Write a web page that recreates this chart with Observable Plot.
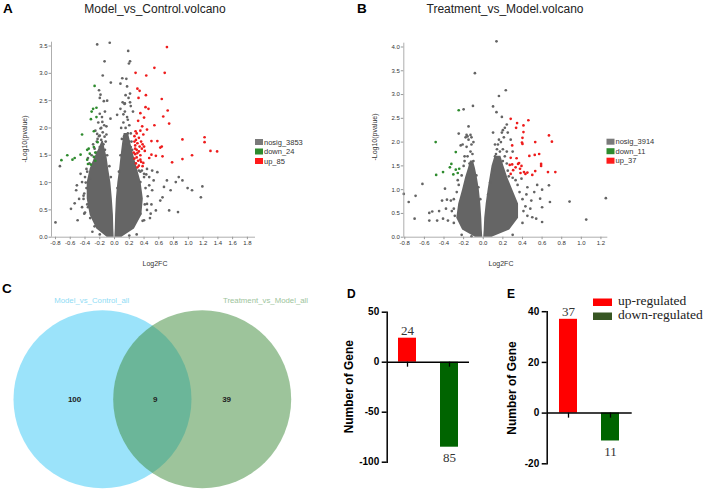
<!DOCTYPE html>
<html>
<head>
<meta charset="utf-8">
<script src="https://cdn.jsdelivr.net/npm/d3@7"></script>
<script src="https://cdn.jsdelivr.net/npm/@observablehq/plot@0.6"></script>
<style>
  html, body { margin: 0; padding: 0; background: #fff; }
  #root { position: relative; width: 708px; height: 491px; overflow: hidden; background: #fff;
          font-family: "Liberation Sans", Arial, sans-serif; }
  #root > svg, #root > figure { position: absolute; margin: 0; }
</style>
</head>
<body>
<div id="root"></div>
<script>
// ---------------- DATA ----------------
const volcanoTitles = ["Model_vs_Control.volcano", "Treatment_vs_Model.volcano"];
const panelLetters = ["A", "B", "C", "D", "E"];
const volcanoXLabel = "Log2FC";
const volcanoYLabel = "-Log10(pvalue)";
const legendLabelsA = ["nosig_3853", "down_24", "up_85"];
const legendLabelsB = ["nosig_3914", "down_11", "up_37"];

const xTicksA = [-0.8, -0.6, -0.4, -0.2, 0, 0.2, 0.4, 0.6, 0.8, 1.0, 1.2, 1.4, 1.6, 1.8];
const yTicksA = [0, 0.5, 1, 1.5, 2, 2.5, 3, 3.5];
const xTicksB = [-0.8, -0.6, -0.4, -0.2, 0, 0.2, 0.4, 0.6, 0.8, 1.0, 1.2];
const yTicksB = [0, 0.5, 1, 1.5, 2, 2.5, 3, 3.5, 4];

// Panel A points [log2FC, -log10(p)]
const upA = [[0.71,3.48],[0.54,3.10],[0.285,3.01],[0.68,3.01],[0.43,2.96],[0.31,2.72],[0.34,2.68],[0.425,2.60],[0.325,2.55],[0.64,2.53],[0.42,2.38],[0.46,2.35],[0.72,2.32],[0.35,2.27],[0.66,2.21],[0.40,2.19],[0.32,2.13],[0.74,2.08],[0.375,2.03],[0.54,2.05],[0.285,1.94],[0.44,1.97],[0.30,1.90],[0.27,1.85],[0.33,1.82],[0.29,1.78],[0.36,1.75],[0.31,1.72],[0.38,1.70],[0.28,1.68],[0.34,1.66],[0.40,1.66],[0.37,1.62],[0.30,1.60],[0.33,1.57],[0.41,1.58],[0.28,1.52],[0.35,1.50],[0.30,1.46],[0.27,1.44],[0.32,1.40],[0.36,1.38],[0.29,1.35],[0.33,1.31],[0.38,1.30],[0.31,1.28],[0.50,1.76],[0.58,1.76],[0.64,1.66],[0.62,1.64],[0.50,1.51],[0.56,1.49],[0.65,1.48],[0.92,1.79],[1.22,1.83],[1.22,1.74],[1.30,1.58],[1.39,1.57],[1.05,1.50],[0.92,1.43],[0.78,1.37],[0.47,1.45],[0.39,1.88],[0.35,1.95],[0.26,1.55],[0.28,1.62],[0.35,1.42],[0.31,1.54],[0.39,1.36],[0.27,1.75]];
const downA = [[-0.27,2.77],[-0.29,2.35],[-0.31,2.30],[-0.245,2.37],[-0.32,2.16],[-0.245,2.20],[-0.28,1.94],[-0.44,1.88],[-0.35,1.62],[-0.37,1.60],[-0.26,1.55],[-0.28,1.47],[-0.46,1.51],[-0.54,1.45],[-0.64,1.50],[-0.57,1.42],[-0.72,1.41],[-0.37,1.42],[-0.36,1.34],[-0.32,1.33],[-0.335,1.53],[-0.26,1.40],[-0.23,1.74],[-0.28,1.65]];
const nosigA = [[-0.235,3.53],[-0.065,3.56],[0.185,3.41],[-0.135,3.22],[0.21,3.22],[0.195,3.18],[-0.16,2.96],[0.105,2.91],[0.16,2.90],[-0.05,2.83],[0.08,2.81],[-0.21,2.69],[-0.19,2.61],[-0.20,2.55],[-0.10,2.50],[-0.145,2.49],[0.17,2.76],[0.21,2.63],[0.11,2.47],[0.135,2.44],[0.21,2.47],[0.08,2.35],[0.035,2.24],[-0.055,2.17],[-0.20,2.26],[-0.165,2.11],[-0.11,2.03],[-0.19,1.99],[-0.235,1.89],[-0.20,1.86],[-0.135,1.84],
  [0.33,1.22],[0.44,1.25],[0.51,1.22],[0.58,1.19],[0.40,1.16],[0.47,1.10],[0.53,1.04],[0.35,1.01],[0.71,1.04],[0.83,1.01],[0.87,1.10],[0.92,1.04],[0.99,0.90],[1.05,0.86],[1.17,0.73],[1.19,0.93],[0.67,0.92],[0.76,0.86],[0.62,0.67],[0.74,0.49],[0.86,0.46],[0.56,0.49],[0.65,0.73],[0.51,0.86],[0.44,0.61],[0.49,0.43],[0.35,0.43],[0.40,0.31],
  [-0.80,0.27],[-0.74,1.30],[-0.59,0.52],[-0.50,0.31],[-0.54,0.62],[-0.48,0.70],[-0.44,1.01],[-0.52,0.86],[-0.46,1.16],[-0.38,1.25],[-0.42,0.76],[-0.36,0.55],[-0.41,0.43],[-0.51,0.95],[-0.33,1.07],
  [-0.38,0.9],[-0.37,0.6],[-0.33,0.35],[-0.27,0.2],[-0.39,1.0],[-0.37,1.2],[-0.34,1.35],[-0.31,1.5],[-0.27,1.62],[-0.24,1.75],[-0.21,1.85],[-0.16,1.92],[-0.12,1.75],[-0.10,1.5],[-0.07,1.3],[-0.05,1.1],[-0.42,0.7],[-0.40,0.45],[-0.30,0.1],[-0.20,0.05],[-0.41,0.8],[-0.29,1.7],[-0.18,2.0],[-0.14,2.05],[-0.22,2.1],[-0.17,2.2],[-0.13,2.3],[-0.44,0.55],[-0.40,1.1],[-0.36,1.45],
  [-0.25,1.55],[-0.20,1.65],[-0.15,1.70],[-0.23,1.80],[-0.18,1.78],[-0.13,1.60],[-0.16,1.45],[-0.11,1.88],[-0.26,1.95],
  [0.38,0.3],[0.41,0.6],[0.42,0.9],[0.40,1.1],[0.37,1.22],[0.24,1.6],[0.23,1.75],[0.22,1.9],[0.20,2.05],[0.17,2.2],[0.14,2.3],[0.12,2.1],[0.10,1.8],[0.08,1.5],[0.06,1.2],[0.04,0.9],[0.30,0.05],[0.20,0.03],[0.45,0.75],[0.44,0.5],[0.25,2.3],[0.22,2.4],[0.19,2.55],[0.15,2.6],[0.47,0.95],[0.43,1.15],[0.35,1.2],[0.25,1.45],[0.50,0.6],[0.48,0.35],
  [0.13,1.85],[0.18,1.90],[0.15,2.00],[0.20,1.75],[0.16,1.70],[0.12,1.60],[0.22,1.65],[0.18,2.15],[0.12,2.25],[0.24,1.45],[0.09,2.0],[0.14,2.45]];
// dense core of panel A (x-extent of the solid cloud at each -log10 p)
const coreLeftA = [{y:0,x1:-0.10,x2:-0.005},{y:0.15,x1:-0.24,x2:-0.01},{y:0.4,x1:-0.33,x2:-0.015},{y:0.7,x1:-0.37,x2:-0.03},{y:1.0,x1:-0.37,x2:-0.05},{y:1.25,x1:-0.33,x2:-0.08},{y:1.45,x1:-0.27,x2:-0.10},{y:1.62,x1:-0.21,x2:-0.13},{y:1.75,x1:-0.17,x2:-0.15}];
const coreRightA = [{y:0,x1:0.005,x2:0.10},{y:0.15,x1:0.01,x2:0.27},{y:0.4,x1:0.015,x2:0.37},{y:0.7,x1:0.025,x2:0.39},{y:1.0,x1:0.045,x2:0.36},{y:1.25,x1:0.07,x2:0.31},{y:1.5,x1:0.09,x2:0.26},{y:1.72,x1:0.11,x2:0.22},{y:1.9,x1:0.13,x2:0.19}];

// Panel B points
const upB = [[0.28,2.49],[0.345,2.40],[0.335,2.30],[0.41,2.35],[0.46,2.46],[0.41,2.21],[0.40,2.09],[0.40,1.96],[0.395,1.99],[0.295,1.93],[0.53,2.00],[0.67,2.14],[0.70,2.01],[0.47,1.71],[0.525,1.73],[0.57,1.75],[0.28,1.67],[0.34,1.66],[0.59,1.54],[0.59,1.50],[0.27,1.52],[0.295,1.53],[0.355,1.54],[0.39,1.50],[0.33,1.47],[0.305,1.41],[0.375,1.44],[0.415,1.37],[0.43,1.33],[0.53,1.39],[0.66,1.37],[0.735,1.37],[0.50,1.31],[0.28,1.33],[0.365,1.56],[0.45,1.36],[0.38,1.35]];
const downB = [[-0.485,2.00],[-0.25,2.67],[-0.28,1.79],[-0.325,1.54],[-0.34,1.47],[-0.41,1.37],[-0.48,1.31],[-0.28,1.42],[-0.245,1.44],[-0.305,1.32],[-0.26,1.35]];
const nosigB = [[0.135,4.12],[-0.085,3.45],[0.23,3.09],[0.16,2.97],[-0.105,2.76],[-0.2,2.69],[0.10,2.75],[0.135,2.63],[0.19,2.53],[0.24,2.37],[0.22,2.30],[-0.15,2.33],[-0.25,2.18],[-0.23,1.93],
  [-0.81,0.91],[-0.76,0.74],[-0.69,0.87],[-0.70,0.39],[-0.62,1.12],[-0.55,0.51],[-0.52,0.54],[-0.47,0.35],[-0.41,0.39],[-0.39,1.02],[-0.37,0.79],[-0.33,0.77],[-0.42,0.77],[-0.30,0.60],
  [0.88,0.75],[1.05,0.37],[1.25,0.82],[0.58,0.81],[0.67,1.09],[0.60,0.63],[0.54,0.39],[0.60,0.32],[0.50,0.42],[0.68,0.74],[0.49,0.77],[0.45,1.05],[0.39,1.23],[0.52,0.95],
  [0.25,2.2],[0.28,2.05],[0.30,1.8],[0.20,2.25],[-0.17,2.15],[-0.12,2.1],[-0.10,2.0],[0.55,1.1],[0.60,1.0],[0.48,0.6],[0.44,0.9],[-0.38,0.6],[-0.36,0.35],[-0.45,0.55],[-0.55,0.35],
  [-0.30,0.3],[-0.32,0.55],[-0.30,0.8],[-0.27,0.95],[-0.25,1.1],[-0.22,1.3],[-0.20,1.5],[-0.19,1.7],[-0.17,1.9],[-0.15,2.05],[-0.18,2.1],[-0.12,1.95],[-0.10,1.6],[-0.07,1.3],[-0.05,1.05],[-0.03,0.8],[-0.22,0.05],[-0.12,0.02],[-0.29,0.45],[-0.26,1.2],[-0.21,1.95],[-0.13,2.15],[-0.16,2.12],
  [-0.16,1.7],[-0.13,1.8],[-0.19,1.6],[-0.11,1.75],[-0.14,1.55],
  [0.40,0.3],[0.41,0.55],[0.40,0.8],[0.37,0.95],[0.35,1.1],[0.30,1.25],[0.25,1.4],[0.24,1.55],[0.22,1.7],[0.20,1.85],[0.18,2.0],[0.15,1.95],[0.12,1.7],[0.10,1.4],[0.07,1.15],[0.05,0.9],[0.30,0.05],[0.45,0.45],[0.43,0.65],[0.33,1.2],[0.26,1.28],[0.24,1.8],[0.21,2.1],[0.19,2.2],
  [0.14,1.85],[0.17,1.8],[0.12,1.95],[0.20,1.6],[0.16,2.05],[0.10,2.2],[0.13,1.75]];
const coreLeftB = [{y:0,x1:-0.08,x2:-0.005},{y:0.15,x1:-0.21,x2:-0.01},{y:0.4,x1:-0.27,x2:-0.015},{y:0.7,x1:-0.25,x2:-0.025},{y:1.0,x1:-0.21,x2:-0.04},{y:1.25,x1:-0.18,x2:-0.06},{y:1.45,x1:-0.15,x2:-0.08},{y:1.6,x1:-0.13,x2:-0.10}];
const coreRightB = [{y:0,x1:0.005,x2:0.09},{y:0.15,x1:0.01,x2:0.27},{y:0.4,x1:0.015,x2:0.36},{y:0.7,x1:0.03,x2:0.36},{y:1.0,x1:0.05,x2:0.30},{y:1.25,x1:0.07,x2:0.25},{y:1.5,x1:0.09,x2:0.21},{y:1.7,x1:0.12,x2:0.18}];

// Venn
const vennSets = ["Model_vs_Control_all", "Treatment_vs_Model_all"];
const vennCounts = [100, 9, 39]; // left only, both, right only

// Bar charts
const regLabels = ["up-regulated", "down-regulated"];
const countsD = [24, -85];
const countsE = [37, -11];
const yTicksD = [-100, -50, 0, 50];
const yTicksE = [-20, 0, 20, 40];
const barYLabel = "Number of Gene";

// ---------------- STYLE ----------------
const FONT = "'Liberation Sans', Arial, sans-serif";
const SERIF = "'Liberation Serif', 'Times New Roman', serif";
const C_GRAY = "#646464", C_CORE = "#656565", C_GREEN = "#2e8b2e", C_RED = "#ee1c1c";
const root = document.getElementById("root");

function place(el, left, top) { el.style.left = left + "px"; el.style.top = top + "px"; root.appendChild(el); }

function volcano(o) {
  const H = 275;
  const pt = (arr, fill) => Plot.dot(arr, {x: d => d[0], y: d => d[1], r: 1.35, fill, stroke: "none"});
  return Plot.plot({
    width: 354, height: H,
    marginLeft: o.mL, marginRight: o.mR, marginTop: o.mT, marginBottom: H - 236.7,
    x: {domain: o.xDomain, axis: null},
    y: {domain: o.yDomain, axis: null},
    style: {fontFamily: FONT, fontSize: "6px", color: "#333", background: "transparent", overflow: "visible"},
    marks: [
      Plot.areaX(o.coreL, {y: "y", x1: "x1", x2: "x2", fill: C_CORE, curve: "linear"}),
      Plot.areaX(o.coreR, {y: "y", x1: "x1", x2: "x2", fill: C_CORE, curve: "linear"}),
      pt(o.nosig, C_GRAY),
      pt(o.down, C_GREEN),
      pt(o.up, C_RED),
      Plot.ruleX([o.xDomain[0]], {stroke: "#999", strokeWidth: 0.8}),
      Plot.ruleY([0], {stroke: "#999", strokeWidth: 0.8}),
      Plot.axisX({ticks: o.xTicks, tickFormat: d => d.toFixed(1), tickSize: 2.5, tickPadding: 1.5, label: null, stroke: "#999"}),
      Plot.axisY({ticks: o.yTicks, tickFormat: d => d.toFixed(1), tickSize: 2.5, tickPadding: 1.5, label: null, stroke: "#999"})
    ]
  });
}

function bars(o) {
  const rows = regLabels.map((c, i) => ({cat: c, value: o.values[i]}));
  return Plot.plot({
    width: 160, height: 190,
    marginLeft: o.mL, marginRight: o.mR, marginTop: o.mT, marginBottom: o.mB,
    x: {domain: regLabels, paddingInner: 0.571, paddingOuter: o.pOuter, axis: null},
    y: {domain: o.yDomain, axis: null},
    color: {domain: regLabels, range: ["#ff0000", "#006400"]},
    style: {fontFamily: FONT, background: "transparent", overflow: "visible", color: "#000"},
    marks: [
      Plot.barY(rows, {x: "cat", y: "value", fill: "cat"}),
      Plot.ruleY([0], {stroke: "#000", strokeWidth: 1.5}),
      Plot.ruleX(rows, {x: "cat", y1: 0, y2: o.tickLen, stroke: "#000", strokeWidth: 1.3}),
      Plot.axisY({ticks: o.yTicks, tickFormat: d => String(d), tickSize: 5, tickPadding: 3, fontSize: 10, fontWeight: "bold", label: null, strokeWidth: 1.5}),
      Plot.frame({anchor: "left", stroke: "#000", strokeWidth: 1.5}),
      Plot.text(rows, {filter: d => d.value > 0, x: "cat", y: "value", text: d => String(Math.abs(d.value)), lineAnchor: "bottom", dy: -3, fontFamily: SERIF, fontSize: 13, fill: "#333"}),
      Plot.text(rows, {filter: d => d.value < 0, x: "cat", y: "value", text: d => String(Math.abs(d.value)), lineAnchor: "top", dy: 6, fontFamily: SERIF, fontSize: 13, fill: "#333"})
    ]
  });
}

// ---- Panel A & B volcano plots
place(volcano({mL: 51, mR: 99, mT: 41.7, xDomain: [-0.854, 1.91], yDomain: [0, 3.57], xTicks: xTicksA, yTicks: yTicksA,
  coreL: coreLeftA, coreR: coreRightA, nosig: nosigA, down: downA, up: upA}), 0, 0);
place(volcano({mL: 49.3, mR: 100.7, mT: 42.7, xDomain: [-0.81, 1.27], yDomain: [0, 4.08], xTicks: xTicksB, yTicks: yTicksB,
  coreL: coreLeftB, coreR: coreRightB, nosig: nosigB, down: downB, up: upB}), 354, 0);

// ---- Panel C Venn
const vennLabelX = [-0.28, 0.53, 1.245];
place(Plot.plot({
  width: 330, height: 196, marginLeft: 0, marginRight: 0, marginTop: 11.4, marginBottom: 0,
  x: {domain: [-1.023, 2.287], axis: null},
  color: {domain: vennSets, range: ["#38c8f6", "#3b8937"]},
  style: {fontFamily: FONT, background: "transparent", overflow: "visible"},
  marks: [
    Plot.dot(vennSets, {x: (d, i) => i, r: 89, fill: d => d, fillOpacity: 0.5, stroke: "none"}),
    Plot.text(vennCounts, {x: (d, i) => vennLabelX[i], text: d => String(d), fontSize: 8, fontWeight: "bold", fill: "#222"})
  ]
}), 0, 295);

// ---- Panel D & E bars
place(bars({values: countsD, yDomain: [-100, 50], yTicks: yTicksD, mL: 56.7, mR: 21, mT: 21.7, mB: 18.3, pOuter: 0.265, tickLen: -5}), 330, 290);
place(bars({values: countsE, yDomain: [-20, 40], yTicks: yTicksE, mL: 56.7, mR: 18.3, mT: 21.2, mB: 16.7, pOuter: 0.297, tickLen: -2}), 490, 290);

// ---- Overlay text (titles, letters, axis titles, legends)
const ov = d3.select(root).append("svg").attr("width", 708).attr("height", 491)
  .style("position", "absolute").style("left", "0px").style("top", "0px").style("pointer-events", "none")
  .style("font-family", FONT);
function t(s, x, y, o = {}) {
  const e = ov.append("text").attr("x", x).attr("y", y).text(s)
    .attr("font-size", o.size || 10).attr("fill", o.fill || "#000")
    .attr("text-anchor", o.anchor || "start");
  if (o.bold) e.attr("font-weight", "bold");
  if (o.family) e.attr("font-family", o.family);
  if (o.rotate) e.attr("x", 0).attr("y", 0).attr("transform", `translate(${x},${y}) rotate(-90)`);
  return e;
}
// panel letters
t(panelLetters[0], 3, 12.5, {size: 13.5, bold: true});
t(panelLetters[1], 357, 12.5, {size: 13.5, bold: true});
t(panelLetters[2], 2, 293, {size: 13.5, bold: true});
t(panelLetters[3], 347, 297.5, {size: 12, bold: true});
t(panelLetters[4], 507, 297.5, {size: 12, bold: true});
// volcano titles
t(volcanoTitles[0], 155, 12.5, {size: 12, anchor: "middle", fill: "#222"});
t(volcanoTitles[1], 505, 12.5, {size: 12, anchor: "middle", fill: "#222"});
// volcano axis titles
t(volcanoYLabel, 26.5, 139, {size: 7, anchor: "middle", rotate: true, fill: "#333"});
t(volcanoYLabel, 376.5, 137, {size: 7, anchor: "middle", rotate: true, fill: "#333"});
t(volcanoXLabel, 155, 266, {size: 7, anchor: "middle", fill: "#333"});
t(volcanoXLabel, 501, 266, {size: 7, anchor: "middle", fill: "#333"});
// volcano legends
const legCols = ["#7a7a7a", C_GREEN, "#ff1a1a"];
[[legendLabelsA, 255, 142], [legendLabelsB, 606.5, 141.7]].forEach(([labels, x0, y0]) => {
  labels.forEach((s, i) => {
    const cy = y0 + i * 9.5;
    ov.append("rect").attr("x", x0).attr("y", cy - 3).attr("width", 8).attr("height", 6).attr("fill", legCols[i]);
    t(s, x0 + 9, cy + 2.6, {size: 7.5, fill: "#333"});
  });
});
// Venn set names
t(vennSets[0], 91.7, 303, {size: 7.8, anchor: "middle", fill: "#8fdcf5"});
t(vennSets[1], 265.5, 303, {size: 7.8, anchor: "middle", fill: "#9dc49b"});
// bar y titles
t(barYLabel, 352.5, 386.7, {size: 12, bold: true, anchor: "middle", rotate: true});
t(barYLabel, 516, 388, {size: 12, bold: true, anchor: "middle", rotate: true});
// E legend
const regLegendCols = ["#ff0000", "#375623"];
regLabels.forEach((s, i) => {
  const y = 298.5 + i * 14;
  ov.append("rect").attr("x", 593).attr("y", y).attr("width", 19).attr("height", 7.5).attr("fill", regLegendCols[i]);
  t(s, 618, y + 6.5, {size: 13.5, family: SERIF, fill: "#222"});
});
</script>
</body>
</html>
